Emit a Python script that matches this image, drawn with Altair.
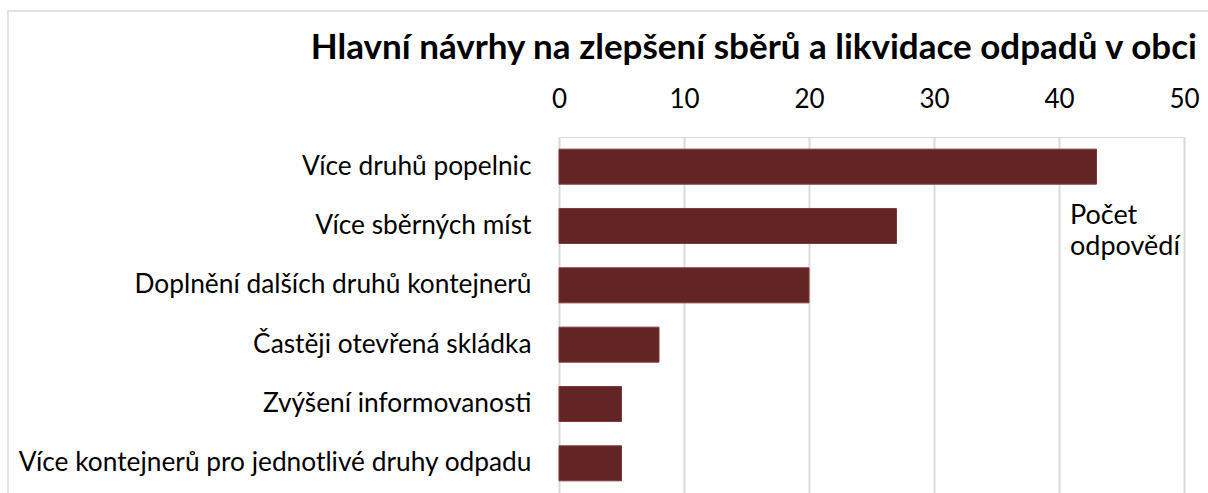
import altair as alt
import pandas as pd

categories = [
    "Více druhů popelnic",
    "Více sběrných míst",
    "Doplnění dalších druhů kontejnerů",
    "Častěji otevřená skládka",
    "Zvýšení informovanosti",
    "Více kontejnerů pro jednotlivé druhy odpadu",
]
values = [43, 27, 20, 8, 5, 5]
x_ticks = [0, 10, 20, 30, 40, 50]
series_name = "Počet\nodpovědí"
title_text = "Hlavní návrhy na zlepšení sběrů a likvidace odpadů v obci"

df = pd.DataFrame({"kategorie": categories, "pocet": values})

FONT = "Lato"
W, H = 625, 356

frame = alt.Chart(pd.DataFrame({"a": [0]})).mark_rect(
    fill=None, stroke="#d9d9d9", strokeWidth=1.5
).encode(
    x=alt.value(-551), x2=alt.value(W + 60),
    y=alt.value(-126), y2=alt.value(H + 60),
)

bars = alt.Chart(df).mark_bar(color="#632523", stroke="#7b3b39", strokeWidth=1).encode(
    x=alt.X(
        "pocet:Q",
        scale=alt.Scale(domain=[0, 50], nice=False),
        axis=alt.Axis(
            orient="top", values=x_ticks, title=None, ticks=False, domain=False,
            grid=True, gridColor="#d9d9d9", gridWidth=2, labelFlush=False,
            labelFont=FONT, labelFontSize=26, labelColor="#000000", labelPadding=25,
        ),
    ),
    y=alt.Y(
        "kategorie:N", sort=categories,
        scale=alt.Scale(paddingInner=0.41, paddingOuter=0.205),
        axis=alt.Axis(
            title=None, ticks=False, domain=False, labelLimit=600,
            labelFont=FONT, labelFontSize=26.3, labelColor="#000000", labelPadding=28,
        ),
    ),
)

legend_text = alt.Chart(pd.DataFrame({"t": [series_name]})).mark_text(
    align="left", baseline="middle", font=FONT, fontSize=27, color="#000000",
    lineBreak="\n", lineHeight=31,
).encode(
    x=alt.value(511), y=alt.value(79), text="t:N"
)

chart = alt.layer(frame, bars, legend_text).properties(
    width=W, height=H,
    title=alt.TitleParams(
        title_text, anchor="end", frame="group", font=FONT, fontSize=35,
        fontWeight="bold", color="#000000", dx=13, offset=0, dy=56,
    ),
    padding={"left": 559, "top": 137, "right": 24, "bottom": 10},
    autosize=alt.AutoSizeParams(type="none"),
).configure_view(stroke=None).configure(background="white")

chart.save("out.html", embed_options={"renderer": "svg", "actions": False})
